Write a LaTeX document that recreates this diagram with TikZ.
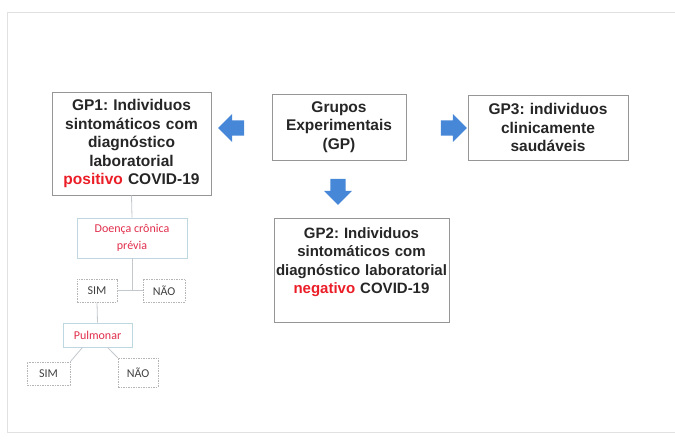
\documentclass[tikz,border=0pt]{standalone}
\usepackage{fontspec}
\setmainfont{Liberation Sans}
\newfontfamily\calfont{Carlito}
\usetikzlibrary{shapes.arrows}
\definecolor{boxgray}{RGB}{150,150,150}
\definecolor{linegray}{RGB}{195,200,205}
\definecolor{framegray}{RGB}{225,225,225}
\definecolor{posred}{RGB}{235,30,40}
\definecolor{subred}{RGB}{225,45,75}
\definecolor{arrowblue}{RGB}{70,135,215}
\definecolor{subblue}{RGB}{190,215,225}
\begin{document}
\begin{tikzpicture}[x=1pt,y=-1pt,
    groupbox/.style={draw=boxgray,line width=0.9pt,align=center,inner sep=2pt,
      font=\fontsize{15.5}{18.5}\selectfont\bfseries\frenchspacing,text=black!85},
    subbox/.style={draw=subblue,line width=0.8pt,align=center,inner sep=1pt,
      font=\calfont\fontsize{12}{17}\selectfont,text=subred},
    answerbox/.style={draw=boxgray!70,dashed,dash pattern=on 1.5pt off 1pt,line width=0.7pt,
      align=center,inner sep=1pt,font=\calfont\fontsize{12}{14}\selectfont,text=black!75},
    blockarrow/.style={single arrow,fill=arrowblue,draw=none,inner sep=7pt,
      minimum height=26pt,minimum width=28pt,single arrow head extend=6pt},
    branch/.style={draw=linegray,line width=0.8pt}]
  \useasboundingbox (0,0) rectangle (675,443);
  \draw[framegray,line width=1pt] (675,13) -- (7,13) -- (7,433) -- (675,433);

  \node[groupbox,text width=155pt,minimum width=157pt,minimum height=103pt] (GP1) at (131.5,143.5)
    {GP1: Individuos\\sintomáticos com\\diagnóstico\\laboratorial\\\textcolor{posred}{positivo} COVID-19};
  \node[groupbox,text width=130pt,minimum width=132pt,minimum height=66pt] (GP) at (339,127)
    {Grupos\\Experimentais\\(GP)};
  \node[groupbox,text width=156pt,minimum width=158pt,minimum height=65pt] (GP3) at (548,127.5)
    {GP3: individuos\\clinicamente\\saudáveis};
  \node[groupbox,font=\fontsize{15}{18.5}\selectfont\bfseries\frenchspacing,
    text width=171pt,minimum width=173pt,minimum height=104pt] (GP2) at (361.5,270)
    {GP2: Individuos\\sintomáticos com\\diagnóstico laboratorial\\\textcolor{posred}{negativo} COVID-19\\[0pt]\mbox{}};

  \node[blockarrow,shape border rotate=180] (arrL) at (235,128) {};
  \node[blockarrow] (arrR) at (450,128) {};
  \node[blockarrow,shape border rotate=270] (arrD) at (338,188) {};

  \node[subbox,minimum width=110pt,minimum height=40pt] (doenca) at (132,238) {Doença crônica\\prévia};
  \node[answerbox,minimum width=40pt,minimum height=23pt] (sim1) at (97,290.5) {SIM};
  \node[answerbox,minimum width=42pt,minimum height=23pt] (nao1) at (164,290.5) {NÃO};
  \node[subbox,minimum width=69pt,minimum height=24pt] (pulm) at (97.5,335) {Pulmonar};
  \node[answerbox,minimum width=43pt,minimum height=23pt] (sim2) at (48.5,373.5) {SIM};
  \node[answerbox,minimum width=40pt,minimum height=29pt] (nao2) at (138,372.5) {NÃO};

  \draw[branch] (GP1.south) to (doenca.north);
  \draw[branch] (sim1.east) to (nao1.west);
  \draw[branch] (doenca.south) to (doenca.south |- sim1.east);
  \draw[branch] (sim1.south) to (pulm.north);
  \draw[branch] (pulm.south) ++(-15,0) to (sim2.north east);
  \draw[branch] (pulm.south) ++(10,0) to (nao2.north west);
\end{tikzpicture}
\end{document}
